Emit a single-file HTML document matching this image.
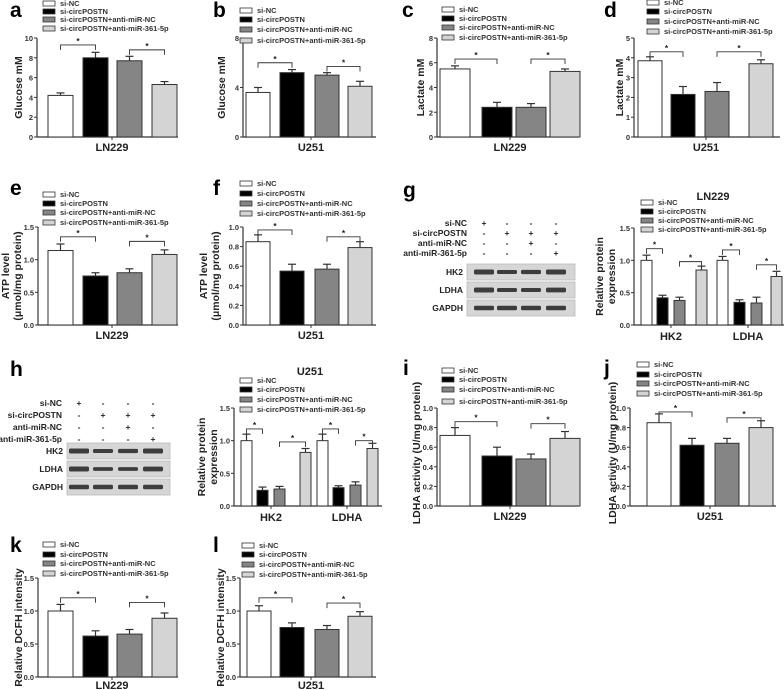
<!DOCTYPE html>
<html><head><meta charset="utf-8">
<style>
body{margin:0;background:#fff;}
svg{display:block;font-family:"Liberation Sans",Arial,sans-serif;}
.tk{font-size:7.5px;font-weight:bold;fill:#333;}
.lg{font-size:7.5px;font-weight:bold;fill:#333;}
.xl{font-size:11px;font-weight:bold;fill:#222;}
.yl{font-size:10.5px;font-weight:bold;fill:#222;}
.pl{font-size:21px;font-weight:bold;fill:#000;}
.bl{font-size:8.5px;font-weight:bold;fill:#222;}
</style></head><body>
<svg id="fig" width="784" height="690" viewBox="0 0 784 690" xmlns="http://www.w3.org/2000/svg"></svg>
<script>
// ---- data ----
const groups = ["si-NC","si-circPOSTN","si-circPOSTN+anti-miR-NC","si-circPOSTN+anti-miR-361-5p"];
const glucoseLN229 = [4.2, 8.0, 7.7, 5.3];
const glucoseLN229Err = [0.25, 0.55, 0.45, 0.3];
const glucoseU251 = [3.6, 5.2, 5.0, 4.1];
const glucoseU251Err = [0.4, 0.25, 0.2, 0.4];
const lactateLN229 = [5.5, 2.4, 2.4, 5.3];
const lactateLN229Err = [0.25, 0.4, 0.3, 0.2];
const lactateU251 = [3.85, 2.15, 2.3, 3.7];
const lactateU251Err = [0.2, 0.4, 0.45, 0.2];
const atpLN229 = [1.14, 0.75, 0.80, 1.08];
const atpLN229Err = [0.1, 0.05, 0.06, 0.07];
const atpU251 = [0.85, 0.55, 0.57, 0.79];
const atpU251Err = [0.07, 0.07, 0.05, 0.06];
const proteinCats = ["HK2","LDHA"];
const protLN229 = [[1.0, 0.42, 0.38, 0.85],[1.0, 0.35, 0.34, 0.75]];
const protLN229Err = [[0.08, 0.04, 0.05, 0.06],[0.06, 0.04, 0.09, 0.08]];
const protU251 = [[1.0, 0.24, 0.26, 0.82],[1.0, 0.28, 0.32, 0.88]];
const protU251Err = [[0.1, 0.05, 0.04, 0.06],[0.1, 0.03, 0.05, 0.08]];
const ldhLN229 = [0.72, 0.51, 0.48, 0.69];
const ldhLN229Err = [0.08, 0.09, 0.05, 0.07];
const ldhU251 = [0.85, 0.62, 0.64, 0.80];
const ldhU251Err = [0.09, 0.07, 0.05, 0.07];
const dcfhLN229 = [1.0, 0.62, 0.65, 0.89];
const dcfhLN229Err = [0.1, 0.08, 0.07, 0.08];
const dcfhU251 = [1.0, 0.75, 0.72, 0.92];
const dcfhU251Err = [0.08, 0.07, 0.06, 0.07];
const ticksGluLN = ["0","2","4","6","8","10"];
const ticksGluU = ["0","4","8"];
const ticksLacLN = ["0","2","4","6","8"];
const ticksLacU = ["0","1","2","3","4","5"];
const ticks15 = ["0.0","0.5","1.0","1.5"];
const ticks10 = ["0.0","0.2","0.4","0.6","0.8","1.0"];
// bracket heights (data units)
const brA=[9.3,8.8], brB=[6.0,5.7], brC=[6.3,6.3], brD=[4.3,4.3], brE=[1.35,1.28], brF=[0.97,0.9];
const brG=[[1.18,0.98],[1.16,0.93]], brH=[[1.18,0.98],[1.18,1.0]];
const brI=[0.86,0.84], brJ=[0.96,0.9], brK=[1.2,1.13], brL=[1.2,1.12];

const fills=["#ffffff","#000000","#858585","#d4d4d4"];
const svg=document.getElementById('fig');
const NS="http://www.w3.org/2000/svg";
function el(tag,attrs,parent,text){const e=document.createElementNS(NS,tag);for(const k in attrs)e.setAttribute(k,attrs[k]);if(text!==undefined)e.textContent=text;(parent||svg).appendChild(e);return e;}
function txt(x,y,s,cls,anchor,parent,rot){const a={x:x,y:y,class:cls,'text-anchor':anchor||'start'};if(rot)a.transform=`rotate(-90 ${x} ${y})`;return el('text',a,parent,s);}

function legend(g,x,ys){
  groups.forEach((name,i)=>{
    const r=el('rect',{x:x,y:ys[i]-5,width:12,height:5,fill:fills[i],stroke:'#333','stroke-width':0.8},g);
    
    
    const t=txt(x+17,ys[i],name,'lg','start',g);
    
    
  });
}
function bracket(g,x1,x2,y){
  el('path',{d:`M${x1} ${y+5}V${y}H${x2}V${y+5}`,fill:'none',stroke:'#333','stroke-width':0.9},g);
  txt((x1+x2)/2,y-1,'*','bl','middle',g);
}
function panel(c){
  const g=el('g',{},svg);
  
  
  const ticks=c.ticks, max=parseFloat(ticks[ticks.length-1]);
  const Y=v=>c.y0-(v/max)*(c.y0-c.y1);
  el('line',{x1:c.ax,y1:c.y1,x2:c.ax,y2:c.y0,stroke:'#333','stroke-width':1.2},g);
  el('line',{x1:c.ax,y1:c.y0,x2:c.axEnd,y2:c.y0,stroke:'#333','stroke-width':1.2},g);
  ticks.forEach(t=>{const y=Y(parseFloat(t));el('line',{x1:c.ax-3,y1:y,x2:c.ax,y2:y,stroke:'#333','stroke-width':1},g);txt(c.ax-4,y+3,t,'tk','end',g);});
  const sets=c.sets;
  sets.forEach((s,si)=>{
    const bx=s.xs, w=s.w;
    s.vals.forEach((v,i)=>{
      const x=bx[i], top=Y(v), e=Y(v+s.err[i]), cx=x+w/2;
      el('line',{x1:cx,y1:top,x2:cx,y2:e,stroke:'#333','stroke-width':1.2},g);
      el('line',{x1:cx-4,y1:e,x2:cx+4,y2:e,stroke:'#333','stroke-width':1.2},g);
      const r=el('rect',{x:x,y:top,width:w,height:c.y0-top,fill:fills[i],stroke:'#333','stroke-width':1},g);
      
      
    });
    const br=s.br;
    bracket(g,bx[0]+w/2,bx[1]+w/2,Y(br[0]));
    bracket(g,bx[2]+w/2,bx[3]+w/2,Y(br[1]));
    if(s.cat){const mx=(bx[1]+bx[2]+w)/2;el('line',{x1:mx,y1:c.y0,x2:mx,y2:c.y0+3,stroke:'#333'},g);txt(mx,c.y0+15,s.cat,'xl','middle',g);}
  });
  if(c.xlabel){el('line',{x1:c.xmid,y1:c.y0,x2:c.xmid,y2:c.y0+3,stroke:'#333'},g);txt(c.xmid,c.y0+(c.xlOff||14),c.xlabel,'xl','middle',g);}
  const ym=(c.y0+c.y1)/2+(c.ylOff||0);
  c.ylabel.forEach((l,i)=>txt(c.ylx[i],ym,l,'yl','middle',g,true));
  legend(g,c.lgx,c.lgy);
  txt(c.lx,c.ly,c.letter,'pl','start',g);
  if(c.title)txt(c.title[0],c.title[1],c.title[2],'xl','middle',g);
}
const L4=[48,83,117,152], R4=[246,280,315,348], C4=[440,482,516,550], D4=[638,671,705,749];
panel({name:'panel-a',letter:'a',lx:10,ly:17,ax:37,axEnd:178,y0:137,y1:38,ticks:ticksGluLN,xmid:112,xlabel:'LN229',ylabel:['Glucose mM'],ylx:[22],lgx:43,lgy:[6,14,22,31],sets:[{xs:L4,w:25,vals:glucoseLN229,err:glucoseLN229Err,br:brA}]});
panel({name:'panel-b',letter:'b',lx:213,ly:17,ax:243,axEnd:376,y0:137,y1:38,ticks:ticksGluU,xmid:311,xlabel:'U251',ylabel:['Glucose mM'],ylx:[225],lgx:240,lgy:[13,22,32,43],sets:[{xs:R4,w:24,vals:glucoseU251,err:glucoseU251Err,br:brB}]});
panel({name:'panel-c',letter:'c',lx:402,ly:17,ax:437,axEnd:578,y0:137,y1:38,ticks:ticksLacLN,xmid:510,xlabel:'LN229',ylabel:['Lactate mM'],ylx:[424],lgx:442,lgy:[12,21,30,40],sets:[{xs:C4,w:30,vals:lactateLN229,err:lactateLN229Err,br:brC}]});
panel({name:'panel-d',letter:'d',lx:604,ly:17,ax:634,axEnd:780,y0:137,y1:38,ticks:ticksLacU,xmid:706,xlabel:'U251',ylabel:['Lactate mM'],ylx:[623],lgx:647,lgy:[5,14,24,34],sets:[{xs:D4,w:24,vals:lactateU251,err:lactateU251Err,br:brD}]});
panel({name:'panel-e',letter:'e',lx:10,ly:195,ax:38,axEnd:178,y0:325,y1:227,ticks:ticks15,xmid:112,xlabel:'LN229',ylabel:['ATP level','(μmol/mg protein)'],ylx:[9,21],lgx:43,lgy:[197,206,215,225],sets:[{xs:L4,w:25,vals:atpLN229,err:atpLN229Err,br:brE}]});
panel({name:'panel-f',letter:'f',lx:213,ly:195,ax:243,axEnd:376,y0:325,y1:227,ticks:ticks10,xmid:311,xlabel:'U251',ylabel:['ATP level','(μmol/mg protein)'],ylx:[207,219],lgx:240,lgy:[186,196,206,216],sets:[{xs:R4,w:24,vals:atpU251,err:atpU251Err,br:brF}]});
panel({name:'panel-g-chart',letter:'',lx:0,ly:0,ax:634,axEnd:784,y0:325,y1:228,ticks:ticks15,ylabel:['Relative protein','expression'],ylx:[603,615],lgx:641,lgy:[205,214,223,232],title:[713,200,'LN229'],
  sets:[{cat:'HK2',xs:[641,657,674,696],w:11,vals:protLN229[0],err:protLN229Err[0],br:brG[0]},{cat:'LDHA',xs:[717,734,751,771],w:11,vals:protLN229[1],err:protLN229Err[1],br:brG[1]}]});
panel({name:'panel-h-chart',letter:'',lx:0,ly:0,ax:234,axEnd:382,y0:506,y1:408,ticks:ticks15,ylabel:['Relative protein','expression'],ylx:[205,217],lgx:240,lgy:[383,392,402,412],title:[310,375,'U251'],
  sets:[{cat:'HK2',xs:[241,257,274,300],w:11,vals:protU251[0],err:protU251Err[0],br:brH[0]},{cat:'LDHA',xs:[317,333,350,367],w:11,vals:protU251[1],err:protU251Err[1],br:brH[1]}]});
panel({name:'panel-i',letter:'i',lx:403,ly:375,ax:437,axEnd:578,y0:506,y1:408,ticks:ticks10,xmid:510,xlabel:'LN229',ylabel:['LDHA activity (U/mg protein)'],ylx:[420],ylOff:-4,lgx:442,lgy:[373,382,392,404],sets:[{xs:C4,w:30,vals:ldhLN229,err:ldhLN229Err,br:brI}]});
panel({name:'panel-j',letter:'j',lx:604,ly:375,ax:630,axEnd:776,y0:506,y1:408,ticks:ticks10,xmid:710,xlabel:'U251',ylabel:['LDHA activity (U/mg protein)'],ylx:[616],ylOff:-4,lgx:637,lgy:[367,377,386,396],sets:[{xs:[647,680,715,749],w:24,vals:ldhU251,err:ldhU251Err,br:brJ}]});
panel({name:'panel-k',letter:'k',lx:10,ly:552,ax:38,axEnd:178,y0:677,y1:578,ticks:ticks15,xmid:112,xlabel:'LN229',xlOff:12,ylabel:['Relative DCFH intensity'],ylx:[22],lgx:43,lgy:[547,557,566,576],sets:[{xs:L4,w:25,vals:dcfhLN229,err:dcfhLN229Err,br:brK}]});
panel({name:'panel-l',letter:'l',lx:213,ly:552,ax:240,axEnd:376,y0:677,y1:578,ticks:ticks15,xmid:311,xlabel:'U251',xlOff:12,ylabel:['Relative DCFH intensity'],ylx:[224],lgx:242,lgy:[548,557,567,577],sets:[{xs:[247,280,315,348],w:24,vals:dcfhU251,err:dcfhU251Err,br:brL}]});
txt(403,197,'g','pl','start');
txt(10,376,'h','pl','start');

// western blots
const blotRows=["si-NC","si-circPOSTN","anti-miR-NC","anti-miR-361-5p"];
const signsG=[["+","-","-","-"],["-","+","+","+"],["-","-","+","-"],["-","-","-","+"]];
const bandNames=["HK2","LDHA","GAPDH"];
const bandG=[[1,0.7,0.75,1],[1,0.65,0.65,0.9],[0.8,0.8,0.8,0.8]];
const bandH=[[1,0.7,0.75,1],[1,0.6,0.55,0.95],[0.85,0.85,0.85,0.85]];
function blot(name,lblX,rowY,colX,bx,bw,bandY,bh,inten){
  const g=el('g',{},svg);
  
  
  blotRows.forEach((r,i)=>{txt(lblX,rowY[i],r,'bl','end',g);signsG[i].forEach((s,j)=>txt(colX[j],rowY[i],s,'bl','middle',g));});
  bandNames.forEach((b,i)=>{
    el('rect',{x:bx,y:bandY[i],width:bw,height:bh,fill:'#d6d6d6',stroke:'#bbb','stroke-width':0.8},g);
    txt(bx-4,bandY[i]+bh/2+3,b,'bl','end',g);
    colX.forEach((cx,j)=>{const h=2+3*inten[i][j];el('rect',{x:cx-10,y:bandY[i]+bh/2-h/2,width:20,height:h,rx:1.5,fill:'#222',opacity:0.85},g);});
  });
}
blot('western-blot-g',467,[226,236,246,256],[484,507,531,556],467,108,[264,282,300],16,bandG);
blot('western-blot-h',62,[406,418,430,442],[79,103,128,153],67,103,[443,461,479],16,bandH);
</script>
</body></html>
